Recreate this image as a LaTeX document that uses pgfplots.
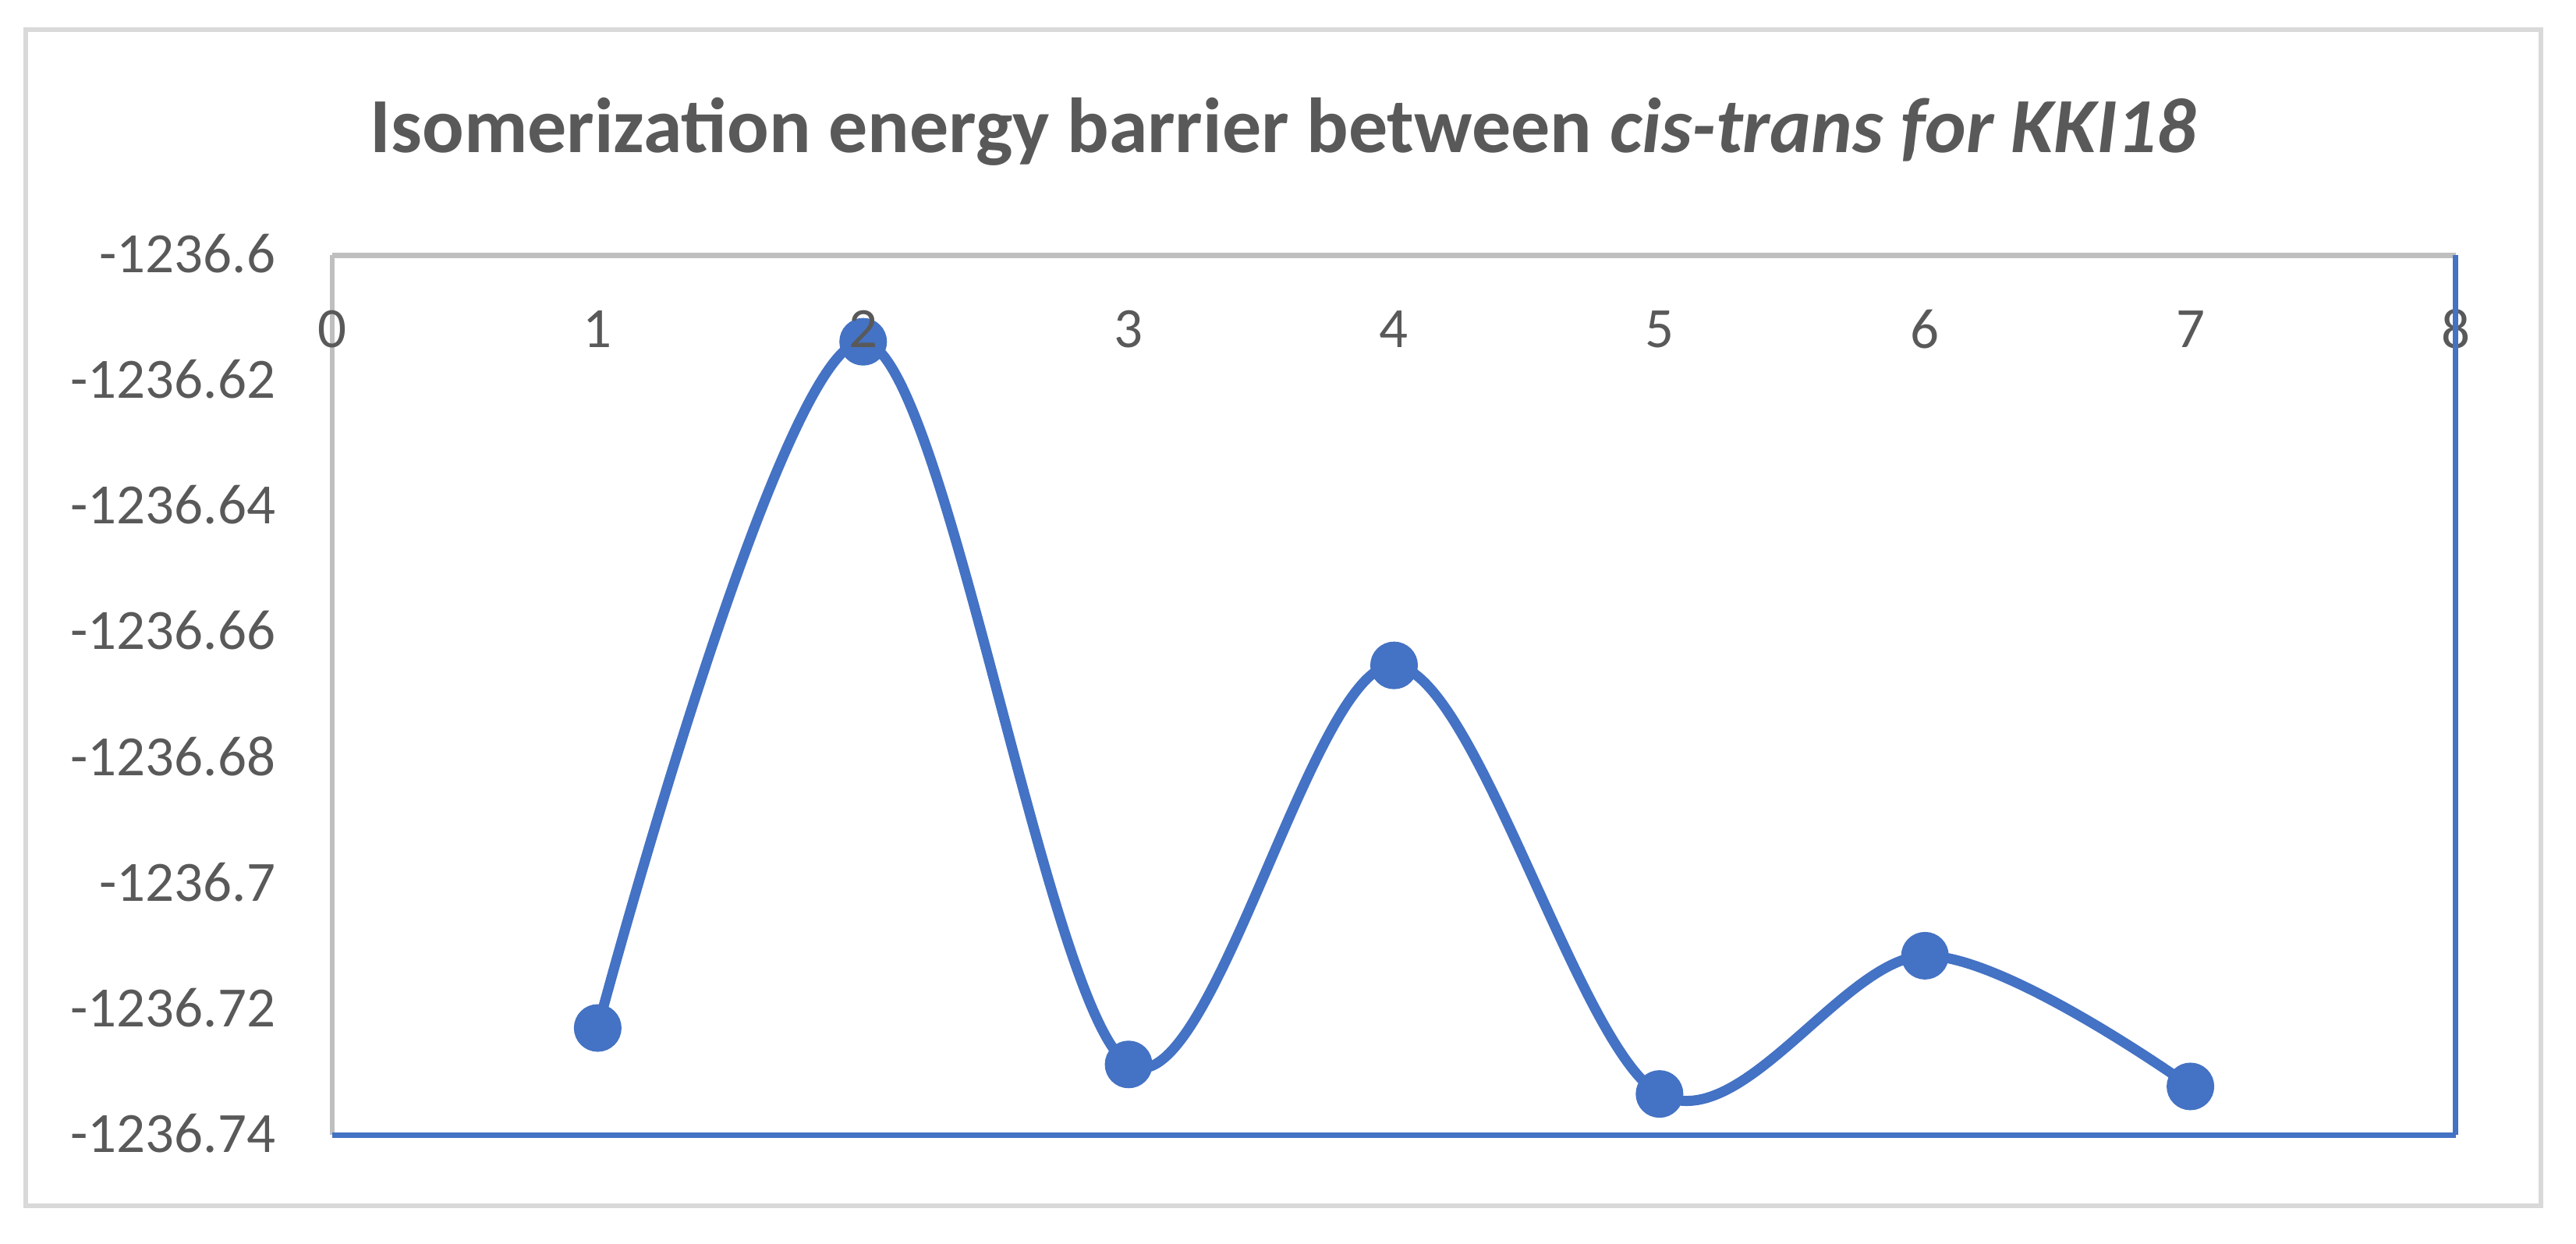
\documentclass[border=0pt]{standalone}
\usepackage{pgfplots}
\pgfplotsset{compat=1.18}
\usepackage{pgfplotstable}
\usepackage{fontspec}
\setmainfont{Carlito}
\definecolor{xblue}{HTML}{4472C4}
\definecolor{xtext}{HTML}{595959}
\definecolor{xgray}{HTML}{BFBFBF}
\definecolor{xframe}{HTML}{D9D9D9}
\pgfplotstableread{
x y
1 -1236.7230
2 -1236.6138
3 -1236.7288
4 -1236.6653
5 -1236.7335
6 -1236.7115
7 -1236.7323
}\energydata
\begin{document}
\begin{tikzpicture}
\path (0,0) rectangle (330.3bp,-159.5bp);
\draw[xframe, line width=0.6bp] (3.3bp,-3.8bp) rectangle (325.8bp,-154.6bp);
\node[anchor=base, inner sep=0pt, text=xtext, font=\fontsize{10bp}{12bp}\selectfont\bfseries]
  at (164.55bp,-19.5bp) {Isomerization energy barrier between \textit{cis-trans for KKI18}};
\begin{axis}[
  set layers=axis on top,
  at={(42.6bp,-145.5bp)}, anchor=south west,
  scale only axis, width=272.3bp, height=112.8bp,
  xmin=0, xmax=8, ymin=-140, ymax=0,
  axis line style={draw=none},
  major tick length=0pt,
  xtick={0,1,2,3,4,5,6,7,8},
  xticklabels={0,1,2,3,4,5,6,7,8},
  xticklabel pos=upper,
  xticklabel style={anchor=center, inner sep=0pt, yshift=-9.5bp},
  ytick={-140,-120,-100,-80,-60,-40,-20,0},
  yticklabels={-1236.74,-1236.72,-1236.7,-1236.68,-1236.66,-1236.64,-1236.62,-1236.6},
  yticklabel style={anchor=east, inner sep=0pt, xshift=-7.1bp, yshift=0.2bp},
  tick label style={text=xtext, font=\fontsize{7.3bp}{9bp}\selectfont},
  clip=false,
]
\draw[xgray, line width=0.7bp] (rel axis cs:0,1) -- (rel axis cs:1,1);
\draw[xgray, line width=0.6bp] (rel axis cs:0,0) -- (rel axis cs:0,1);
\draw[xblue, line width=0.7bp] (rel axis cs:0,0) -- (rel axis cs:1,0);
\addplot[xblue, line width=1.3bp, smooth, tension=0.55,
  mark=*, mark size=2.4bp, mark options={fill=xblue, draw=none},
  y filter/.code={%
    \edef\pgfmathresult{\fpeval{(\pgfmathresult+1236.6)*1000}}%
  }] table[x=x, y=y] {\energydata};
\begin{pgfonlayer}{axis foreground}
\draw[xblue, line width=0.7bp] (rel axis cs:1,0) -- (rel axis cs:1,1);
\end{pgfonlayer}
\end{axis}
\end{tikzpicture}
\end{document}
